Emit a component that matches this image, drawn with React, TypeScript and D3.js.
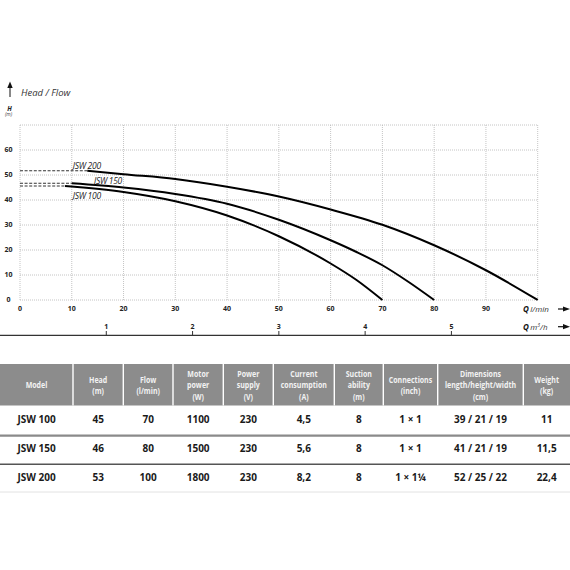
import * as d3 from "d3";

// Pump curves: [flow l/min, head m]
const jsw100: [number, number][] = [[8.7, 45.6], [20, 43.2], [30, 39.5], [40, 33.8], [50, 25.5], [60, 14.6], [65, 8], [70, 0]];
const jsw150: [number, number][] = [[10, 46.7], [20, 45], [30, 42.4], [40, 38.5], [50, 32.1], [60, 23.9], [65, 19.2], [70, 13.9], [75, 7.3], [80, 0]];
const jsw200: [number, number][] = [[13, 51.7], [20, 50.3], [30, 48.4], [40, 45.3], [50, 41.4], [60, 36.2], [70, 30.1], [80, 21.9], [90, 11.9], [100, 0]];

const curveNames = ["JSW 100", "JSW 150", "JSW 200"];
// label anchor in data units (flow, head)
const curveLabelPos: [number, number][] = [[10.2, 40.4], [14.3, 46.5], [10.2, 52.4]];

const flowTicks = [0, 10, 20, 30, 40, 50, 60, 70, 80, 90];
const headTicks = [0, 10, 20, 30, 40, 50, 60];
const flowGrid = [0, 10, 20, 30, 40, 50, 60, 70, 80, 90, 100];
const headGrid = [0, 10, 20, 30, 40, 50, 60, 70];
const m3hTicks = [1, 2, 3, 4, 5];

// Table
const headers = [
  ["Model"],
  ["Head", "(m)"],
  ["Flow", "(l/min)"],
  ["Motor", "power", "(W)"],
  ["Power", "supply", "(V)"],
  ["Current", "consumption", "(A)"],
  ["Suction", "ability", "(m)"],
  ["Connections", "(inch)"],
  ["Dimensions", "length/height/width", "(cm)"],
  ["Weight", "(kg)"],
];
const models = ["JSW 100", "JSW 150", "JSW 200"];
const heads = ["45", "46", "53"];
const flows = ["70", "80", "100"];
const motorPower = ["1100", "1500", "1800"];
const powerSupply = ["230", "230", "230"];
const currents = ["4,5", "5,6", "8,2"];
const suction = ["8", "8", "8"];
const connections = ["1 × 1", "1 × 1", "1 × 1¼"];
const dimensions = ["39 / 21 / 19", "41 / 21 / 19", "52 / 25 / 22"];
const weights = ["11", "11,5", "22,4"];

const colEdges = [0, 73, 123.3, 173, 223.3, 273.3, 334.3, 383.3, 437.7, 523.3, 570];

const W = 570;
const H = 570;

export default function App() {
  const x = d3.scaleLinear().domain([0, 100]).range([20, 537.7]);
  const y = d3.scaleLinear().domain([0, 70]).range([300, 125]);
  const xm3 = d3.scaleLinear().domain([0, 6]).range([x(0), x(100)]); // 1 m3/h = 16.67 l/min

  const line = d3
    .line<[number, number]>()
    .x((d) => x(d[0]))
    .y((d) => y(d[1]))
    .curve(d3.curveMonotoneX);

  const curves = [jsw100, jsw150, jsw200];
  const rows = models.map((m, i) => [
    m, heads[i], flows[i], motorPower[i], powerSupply[i], currents[i], suction[i], connections[i], dimensions[i], weights[i],
  ]);
  const rowY = d3.scaleBand<number>().domain([0, 1, 2]).range([406, 492]);

  const tickFont = "'Open Sans', 'DejaVu Sans', sans-serif";

  return (
    <svg width={W} height={H} style={{ position: "absolute", left: 0, top: 0, background: "#fff" }}>
      {/* grid */}
      <g stroke="#b5b5b5" strokeWidth={0.8} strokeDasharray="1,1">
        {flowGrid.map((q) => (
          <line key={"v" + q} x1={x(q)} x2={x(q)} y1={y(70)} y2={y(0)} />
        ))}
        {headGrid.map((h) => (
          <line key={"h" + h} x1={x(0)} x2={x(100)} y1={y(h)} y2={y(h)} />
        ))}
      </g>

      {/* ticks */}
      <g fontFamily={tickFont} fontWeight="bold" fontSize={7} fill="#222" textAnchor="middle">
        {headTicks.map((h) => (
          <text key={h} x={8.5} y={y(h)} dy="0.35em">{h}</text>
        ))}
        {flowTicks.map((q) => (
          <text key={q} x={x(q)} y={308.5} dy="0.35em">{q}</text>
        ))}
      </g>

      {/* vertical axis title */}
      <line x1={10} x2={10} y1={97} y2={87} stroke="#111" strokeWidth={1} />
      <path d="M7.3,88 L10,81.5 L12.7,88 Z" fill="#111" />
      <text x={21} y={92.7} dy="0.35em" fontFamily={tickFont} fontStyle="italic" fontSize={9.5} fill="#333">Head / Flow</text>
      <text x={9.5} y={108.3} dy="0.35em" textAnchor="middle" fontFamily={tickFont} fontWeight="bold" fontStyle="italic" fontSize={6.5} fill="#222">H</text>
      <text x={8.5} y={114.5} dy="0.35em" textAnchor="middle" fontFamily={tickFont} fontStyle="italic" fontSize={5} fill="#444">(m)</text>

      {/* shut-off dashes */}
      <g stroke="#333" strokeWidth={1} strokeDasharray="3,1.6" fill="none">
        {curves.map((c, i) => (
          <line key={i} x1={x(0)} x2={x(c[0][0])} y1={y(c[0][1])} y2={y(c[0][1])} />
        ))}
      </g>

      {/* curves */}
      <g stroke="#000" strokeWidth={2} fill="none">
        {curves.map((c, i) => (
          <path key={i} d={line(c) ?? ""} />
        ))}
      </g>
      <g fontFamily={tickFont} fontStyle="italic" fontSize={8.5} fill="#222" letterSpacing={-0.3}>
        {curveNames.map((n, i) => (
          <text key={n} x={x(curveLabelPos[i][0])} y={y(curveLabelPos[i][1])}>{n}</text>
        ))}
      </g>

      {/* Q labels */}
      <g fontFamily={tickFont} fontSize={8} fill="#333">
        <text x={523} y={309} dy="0.35em">
          <tspan fontWeight="bold" fontStyle="italic" fill="#111">Q</tspan>
          <tspan fontStyle="italic" dx={1.5}>l/min</tspan>
        </text>
        <text x={523} y={326.7} dy="0.35em">
          <tspan fontWeight="bold" fontStyle="italic" fill="#111">Q</tspan>
          <tspan fontStyle="italic" dx={1.5}>m</tspan>
          <tspan fontStyle="italic" fontSize={5} dy={-3}>3</tspan>
          <tspan fontStyle="italic" dy={3}>/h</tspan>
        </text>
      </g>
      {[309, 326.7].map((ay) => (
        <g key={ay}>
          <line x1={558} x2={566} y1={ay} y2={ay} stroke="#111" strokeWidth={1.2} />
          <path d={`M563,${ay - 2.6} L570,${ay} L563,${ay + 2.6} Z`} fill="#111" />
        </g>
      ))}

      {/* m3/h axis */}
      <line x1={0} x2={W} y1={335.3} y2={335.3} stroke="#333" strokeWidth={1.3} />
      <g fontFamily={tickFont} fontWeight="bold" fontSize={7} fill="#222" textAnchor="middle">
        {m3hTicks.map((t) => (
          <g key={t}>
            <line x1={xm3(t)} x2={xm3(t)} y1={331} y2={335.3} stroke="#333" strokeWidth={1} />
            <text x={xm3(t)} y={326.3} dy="0.35em">{t}</text>
          </g>
        ))}
      </g>

      {/* table header */}
      <rect x={0} y={364} width={W} height={41.5} fill="#8c8c8c" />
      {colEdges.slice(1, -1).map((e) => (
        <line key={e} x1={e} x2={e} y1={364} y2={405.5} stroke="#fff" strokeWidth={1.4} />
      ))}
      <g fontFamily={tickFont} fontWeight="bold" fontSize={9.5} fill="#f2f2f2" textAnchor="middle">
        {headers.map((lines, ci) => {
          const cx = (colEdges[ci] + colEdges[ci + 1]) / 2;
          const lh = 11.6;
          const y0 = 385 - ((lines.length - 1) * lh) / 2;
          return lines.map((t, li) => (
            <text key={ci + "-" + li} transform={`translate(${cx},${y0 + li * lh}) scale(0.74,1)`} dy="0.35em">{t}</text>
          ));
        })}
      </g>

      {/* table body */}
      <g fontFamily={tickFont} fontWeight="bold" fontSize={10} fill="#1a1a1a" textAnchor="middle">
        {rows.map((r, ri) =>
          r.map((v, ci) => (
            <text key={ri + "-" + ci} x={(colEdges[ci] + colEdges[ci + 1]) / 2} y={(rowY(ri) ?? 0) + rowY.bandwidth() / 2 - 0.6} dy="0.35em">{v}</text>
          ))
        )}
      </g>
      <line x1={0} x2={W} y1={435.6} y2={435.6} stroke="#8a8a8a" strokeWidth={2.4} />
      <line x1={0} x2={W} y1={464.3} y2={464.3} stroke="#555" strokeWidth={1.4} />
      <line x1={0} x2={W} y1={492} y2={492} stroke="#e2e2e2" strokeWidth={1} />
    </svg>
  );
}
